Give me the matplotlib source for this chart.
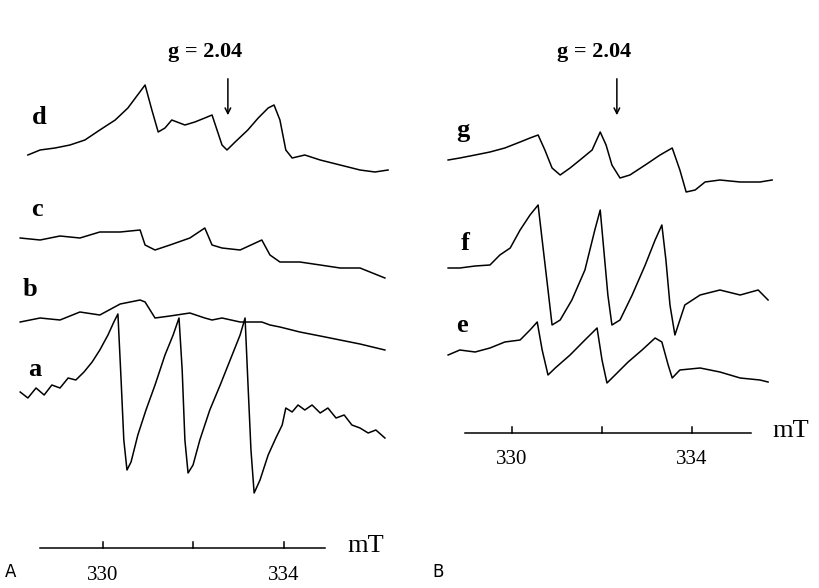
import matplotlib
matplotlib.use("Agg")
import matplotlib.pyplot as plt

# Panel A traces: field in mT, signal height (arbitrary units, baseline offsets included)
field_a = [328.17, 328.34, 328.52, 328.70, 328.87, 329.05, 329.23, 329.40, 329.58, 329.76,
           329.93, 330.11, 330.24, 330.33, 330.40, 330.46, 330.53, 330.62, 330.77, 330.95,
           331.15, 331.37, 331.55, 331.68, 331.75, 331.81, 331.88, 331.99, 332.14, 332.36,
           332.59, 332.81, 333.03, 333.14, 333.20, 333.27, 333.34, 333.47, 333.65, 333.82,
           333.96, 334.04, 334.18, 334.31, 334.46, 334.62, 334.80, 334.97, 335.15, 335.33,
           335.50, 335.68, 335.86, 336.03, 336.23]
sig_a = [196, 190, 200, 193, 203, 200, 210, 208, 216, 226,
         238, 253, 266, 274, 208, 148, 118, 126, 153, 178,
         203, 233, 253, 270, 218, 148, 115, 123, 148, 178,
         203, 228, 253, 270, 208, 138, 95, 108, 133, 150,
         163, 180, 176, 183, 178, 183, 175, 180, 170, 173,
         163, 160, 155, 158, 150]

field_bc = [328.17, 328.61, 329.05, 329.49, 329.93, 330.38, 330.82, 330.93, 331.15, 331.48,
            331.92, 332.25, 332.41, 332.63, 333.03, 333.51, 333.69, 333.91, 334.35, 334.80,
            335.24, 335.68, 336.23]
sig_b = [266, 270, 268, 276, 273, 284, 288, 286, 270, 272,
         275, 270, 268, 270, 266, 266, 263, 261, 256, 252,
         248, 244, 238]
sig_c = [350, 348, 352, 350, 356, 356, 358, 343, 338, 343,
         350, 360, 343, 340, 338, 348, 333, 326, 326, 323,
         320, 320, 310]

field_d = [328.34, 328.61, 328.94, 329.27, 329.60, 329.93, 330.27, 330.55, 330.93, 331.08,
           331.22, 331.37, 331.52, 331.81, 332.03, 332.25, 332.41, 332.63, 332.74, 332.92,
           333.20, 333.43, 333.65, 333.78, 333.91, 334.04, 334.18, 334.46, 334.80, 335.24,
           335.68, 336.01, 336.30]
sig_d = [433, 438, 440, 443, 448, 458, 468, 480, 503, 478,
         456, 460, 468, 463, 466, 470, 473, 443, 438, 446,
         458, 470, 480, 483, 468, 438, 430, 433, 428, 423,
         418, 416, 418]

# Panel B traces
field_g = [328.58, 328.84, 329.18, 329.51, 329.84, 330.18, 330.40, 330.58, 330.73, 330.89,
           331.07, 331.29, 331.51, 331.78, 331.96, 332.09, 332.22, 332.40, 332.62, 332.96,
           333.29, 333.56, 333.73, 333.87, 334.07, 334.29, 334.62, 335.07, 335.51, 335.78]
sig_g = [428, 430, 433, 436, 440, 446, 450, 453, 438, 420,
         413, 420, 428, 438, 456, 443, 423, 410, 413, 423,
         433, 440, 418, 396, 398, 406, 408, 406, 406, 408]

field_f = [328.58, 328.84, 329.18, 329.51, 329.73, 329.96, 330.18, 330.40, 330.58, 330.67,
           330.80, 330.89, 331.07, 331.33, 331.62, 331.84, 331.96, 332.04, 332.13, 332.22,
           332.40, 332.67, 332.96, 333.18, 333.33, 333.42, 333.51, 333.62, 333.84, 334.18,
           334.62, 335.07, 335.47, 335.69]
sig_f = [320, 320, 322, 323, 333, 340, 358, 373, 383, 348,
         298, 263, 268, 288, 318, 358, 378, 338, 293, 263,
         268, 293, 323, 348, 363, 328, 283, 253, 283, 293,
         298, 293, 298, 288]

field_e = [328.58, 328.84, 329.18, 329.51, 329.84, 330.18, 330.40, 330.56, 330.67, 330.80,
           330.96, 331.29, 331.62, 331.89, 332.00, 332.11, 332.29, 332.58, 332.89, 333.18,
           333.33, 333.47, 333.56, 333.73, 334.18, 334.62, 335.07, 335.51, 335.69]
sig_e = [233, 238, 236, 240, 246, 248, 258, 266, 238, 213,
         220, 233, 248, 260, 228, 205, 213, 226, 238, 250,
         246, 223, 210, 218, 220, 216, 210, 208, 206]

ticks = [330, 332, 334]
tick_labels = ["330", "", "334"]

serif = ["Liberation Serif", "DejaVu Serif"]

fig = plt.figure(figsize=(8.2, 5.88), dpi=100)
ax_a = fig.add_axes([0, 0, 1, 1])
ax_b = fig.add_axes([0, 0, 1, 1])
ax_b.patch.set_alpha(0)
ax_a.set_xlim(327.724, 345.845)
ax_b.set_xlim(318.622, 336.844)
for ax in (ax_a, ax_b):
    ax.set_ylim(0, 588)
    ax.axis("off")

lw = 1.1
for f, s in [(field_a, sig_a), (field_bc, sig_b), (field_bc, sig_c), (field_d, sig_d)]:
    ax_a.plot(f, s, color="black", lw=lw)
for f, s in [(field_g, sig_g), (field_f, sig_f), (field_e, sig_e)]:
    ax_b.plot(f, s, color="black", lw=lw)

# trace letters
for ax, x, y, t in [(ax_a, 328.6, 470, "d"), (ax_a, 328.55, 378, "c"), (ax_a, 328.38, 298, "b"),
                    (ax_a, 328.5, 218, "a"), (ax_b, 328.9, 458, "g"), (ax_b, 328.95, 345, "f"),
                    (ax_b, 328.88, 263, "e")]:
    ax.text(x, y, t, fontsize=19, fontweight="bold", family=serif, ha="center", va="center")

# g markers with arrows
for ax, x in [(ax_a, 332.76), (ax_b, 332.33)]:
    ax.text(x - 0.5, 536, "g = 2.04", fontsize=16, fontweight="bold", family=serif,
            ha="center", va="center")
    ax.annotate("", xy=(x, 470), xytext=(x, 512),
                arrowprops=dict(arrowstyle="->", color="black", lw=1.1))

# field axes
for ax, y0, x0, x1 in [(ax_a, 40, 328.6, 334.9), (ax_b, 155, 328.96, 335.3)]:
    ax.plot([x0, x1], [y0, y0], color="black", lw=1.1)
    for t, lab in zip(ticks, tick_labels):
        ax.plot([t, t], [y0, y0 + 6], color="black", lw=1.1)
        if lab:
            ax.text(t, y0 - 27, lab, fontsize=15, family=serif, ha="center", va="center")
    ax.text(x1 + 0.9, y0 + 2, "mT", fontsize=19, family=serif, ha="center", va="center")

ax_a.text(327.95, 16, "A", fontsize=12, ha="center", va="center")
ax_b.text(328.36, 16, "B", fontsize=12, ha="center", va="center")

fig.savefig("out.png", dpi=100, facecolor="white")
